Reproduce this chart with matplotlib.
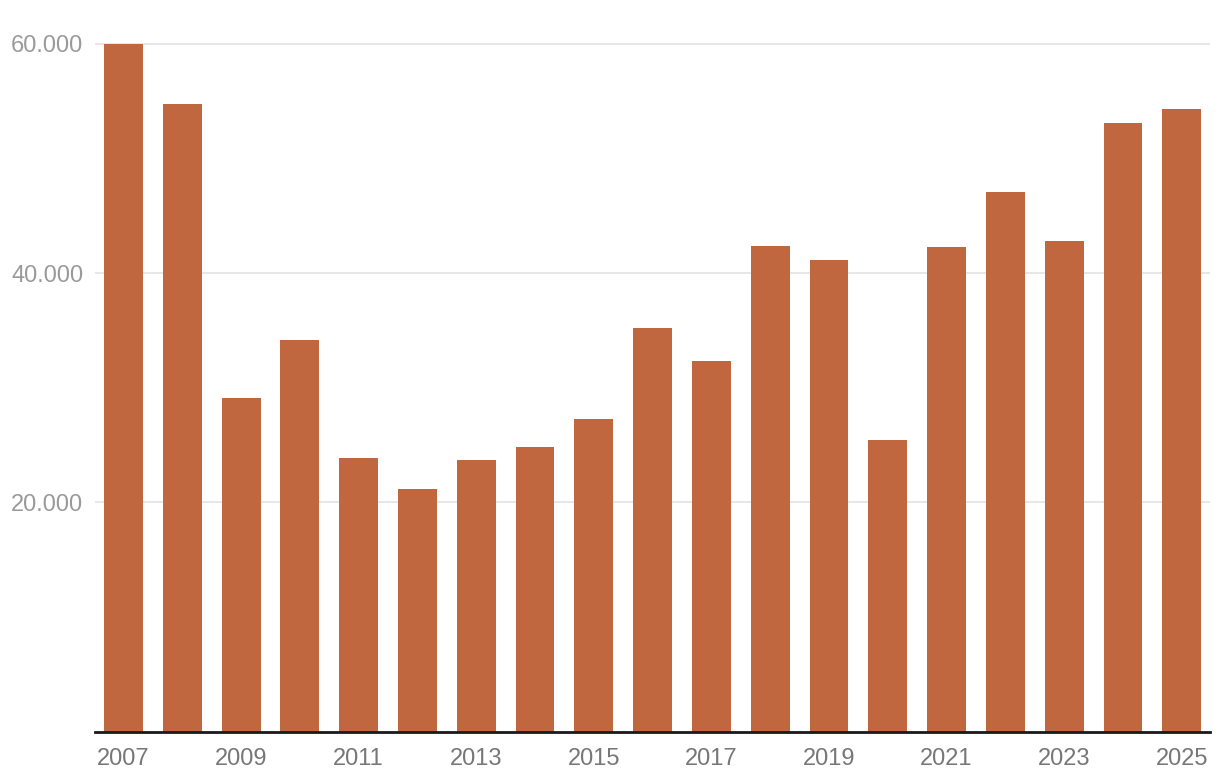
import matplotlib
matplotlib.use("Agg")
import matplotlib.pyplot as plt
from matplotlib.ticker import FuncFormatter

years = list(range(2007, 2026))
values = [60000, 54800, 29100, 34200, 23850, 21200, 23700, 24800, 27250,
          35200, 32300, 42350, 41150, 25400, 42300, 47100, 42800, 53100, 54350]
y_ticks = [20000, 40000, 60000]

bar_color = "#C0673F"

plt.rcParams['font.family'] = ['Liberation Sans', 'DejaVu Sans']

W, H = 1220, 784
fig = plt.figure(figsize=(W / 100, H / 100), dpi=100)

ymax = 60500
bottom_px = 731.5
top60_px = 44
top_px = bottom_px - (bottom_px - top60_px) * ymax / 60000
ax = fig.add_axes([95 / W, 1 - bottom_px / H, (1210 - 95) / W, (bottom_px - top_px) / H])

x = list(range(len(years)))
ax.bar(x, values, width=0.66, color=bar_color, zorder=2)

ax.set_xlim(-0.485, 18.48)
ax.set_ylim(0, ymax)

ax.set_yticks(y_ticks)
ax.yaxis.set_major_formatter(FuncFormatter(lambda v, p: f"{int(v):,}".replace(",", ".")))
ax.grid(axis='y', color='#e3e3e3', linewidth=1.2, zorder=0)
ax.tick_params(axis='y', length=0, pad=8.5, labelsize=17, labelcolor='#9a9a9a')

ax.set_xticks(x[::2])
ax.set_xticklabels([str(y) for y in years[::2]])
ax.tick_params(axis='x', length=0, pad=12, labelsize=17, labelcolor='#777777')

for s in ['top', 'right', 'left']:
    ax.spines[s].set_visible(False)
ax.spines['bottom'].set_color('#1a1a1a')
ax.spines['bottom'].set_linewidth(2)
ax.spines['bottom'].set_zorder(3)

fig.savefig("out.png", dpi=100)
